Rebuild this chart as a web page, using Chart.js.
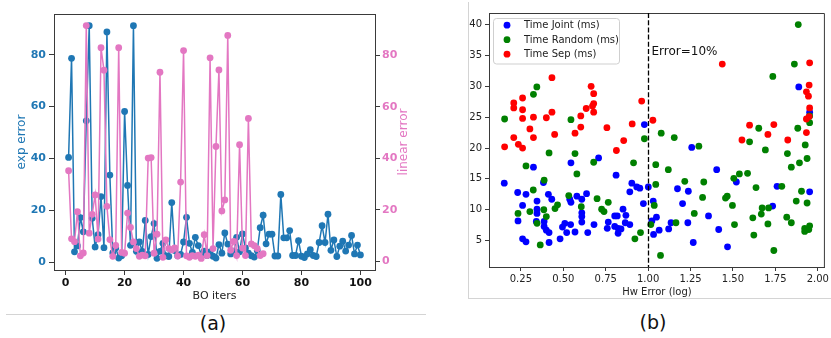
<!DOCTYPE html>
<html><head><meta charset="utf-8">
<script src="https://cdn.jsdelivr.net/npm/chart.js@4.4.0/dist/chart.umd.min.js"></script>
<style>
html,body{margin:0;padding:0;background:#fff;width:831px;height:338px;overflow:hidden;font-family:"DejaVu Sans",sans-serif;}
#ca{position:absolute;left:0;top:0;}
#cb{position:absolute;left:469px;top:0;}
#lineA{position:absolute;left:6px;top:314px;width:420px;height:0;border-top:1px solid #d4d4d4;}
#boxB{position:absolute;left:468px;top:2px;width:380px;height:296px;border-left:1px solid #d4d4d4;border-bottom:1px solid #d4d4d4;}
.cap{position:absolute;font-size:19px;color:#111;width:60px;text-align:center;line-height:22px;}
</style></head><body>
<div id="lineA"></div>
<div id="boxB"></div>
<canvas id="ca" width="430" height="310"></canvas>
<canvas id="cb" width="362" height="298"></canvas>
<div class="cap" style="left:183px;top:312px;">(a)</div>
<div class="cap" style="left:623px;top:311px;">(b)</div>
<script>
// ---------- (a) data ----------
const expError = [40.4,78.6,4.0,6.3,17.2,11.7,54.5,91.2,17.0,5.9,
10.6,25.3,5.6,88.8,33.6,3.6,5.5,1.6,2.5,58.1,
29.6,6.5,91.2,4.2,7.8,4.2,16.1,3.0,9.9,14.9,
1.5,4.2,7.3,2.5,2.2,23.0,4.5,2.5,3.0,7.8,
17.3,7.3,3.8,9.6,6.4,2.8,4.3,2.6,4.0,2.3,
1.6,6.8,3.5,11.3,7.0,3.2,4.0,9.6,4.0,10.9,
5.5,3.5,2.5,2.0,4.5,13.3,18.1,7.1,10.8,10.8,
2.4,2.4,26.1,9.4,9.4,12.2,2.6,2.6,8.3,2.3,
1.8,3.2,4.8,2.6,2.2,7.6,14.1,7.6,18.5,4.6,
8.6,2.2,6.2,8.1,4.3,6.6,10.3,3.2,6.6,2.8];
const linearError = [35.2,8.8,7.7,19.3,2.2,3.3,91.5,11.0,18.3,25.8,
8.7,82.9,74.2,21.4,8.5,2.0,6.2,82.9,3.5,3.2,
18.8,13.2,7.6,5.0,2.0,2.5,2.2,40.1,40.3,3.2,
10.6,73.4,1.6,8.4,5.0,4.5,5.3,2.1,30.8,81.8,
2.2,1.6,2.3,2.0,2.5,1.2,10.4,2.3,79.0,5.0,
44.6,74.3,19.6,23.9,87.7,4.4,7.8,2.3,45.3,5.2,
2.3,55.5,6.8,6.1,5.0,2.3,3.0];
const boIterTicks = [0,20,40,60,80,100];
const expTicks = [0,20,40,60,80];
const linTicks = [0,20,40,60,80];

// ---------- (b) data ----------
const jointX = [0.324,0.545,0.708,0.978,1.888,1.952,1.257,1.404,1.52,1.001,1.173,1.237,1.76,1.952,1.03,1.203,1.734,1.356,1.049,1.022,1.135,1.234,1.032,1.065,1.121,1.416,1.266,1.468,
0.152,0.231,0.28,0.383,0.412,0.432,0.538,0.545,0.58,0.609,0.637,0.609,0.609,0.609,0.26,0.345,0.345,0.345,0.233,0.341,0.387,0.387,0.40,0.416,0.26,0.28,0.416,0.481,0.495,0.509,0.52,0.543,0.569,0.644,0.681,0.759,0.765,0.811,0.803,0.818,0.803,0.823,0.823,0.84,0.852,0.869,0.865,0.892,0.892,0.904,0.933,0.951,0.972];
const jointY = [16.9,17.6,18.4,23.8,29.9,25.8,20.1,16.5,14.5,13.7,13.4,13.0,13.8,12.9,11.4,11.0,10.6,9.0,8.8,8.2,7.9,7.9,6.0,6.7,6.9,6.8,4.7,4.0,
14.3,12.8,12.5,14.4,12.5,11.7,11.7,11.2,12.2,11.7,12.6,9.5,8.9,8.0,10.7,11.4,10.1,9.4,8.2,8.1,8.1,7.3,6.7,6.3,5.3,4.8,4.7,5.3,7.2,7.8,6.3,7.6,6.4,6.3,7.6,7.0,8.0,15.6,9.0,9.0,7.3,7.0,6.2,6.9,10.1,9.1,7.9,7.6,12.9,14.3,13.7,13.5,11.0];
const randomX = [0.154,0.324,0.344,0.28,0.416,0.545,0.569,0.679,0.914,0.978,
1.885,1.862,1.735,1.952,1.952,1.652,1.882,1.077,1.154,1.299,1.598,1.926,1.691,1.821,1.937,1.892,1.844,1.045,1.119,
1.505,1.538,1.586,1.216,1.328,1.045,1.636,1.788,1.904,1.321,1.466,1.456,1.036,1.497,1.873,1.937,1.71,1.672,1.667,1.272,1.617,1.817,1.844,1.164,1.509,1.706,1.016,0.955,1.923,1.952,1.947,1.923,1.623,1.741,1.073,
0.58,0.323,0.387,0.532,0.606,0.233,0.303,0.385,0.40,0.451,0.466,0.345,0.364,0.699,0.726,0.74,0.765,0.922];
const randomY = [24.7,28.7,29.9,17.1,19.2,24.6,19.1,17.7,17.6,21.5,
40.0,33.6,31.6,25.2,24.1,23.2,23.2,22.4,21.7,20.3,21.0,20.5,19.7,19.1,18.3,17.6,16.9,17.3,16.5,
15.1,15.8,15.9,14.6,14.5,14.1,13.6,13.8,13.0,12.0,12.2,11.9,10.7,10.7,11.4,11.1,10.3,10.3,9.3,9.4,8.7,8.8,7.9,7.9,7.6,7.7,7.6,6.3,7.0,7.4,6.8,6.5,5.9,3.4,2.6,
15.8,13.2,14.8,12.3,10.5,9.4,9.7,10.0,8.9,10.2,10.8,7.8,4.3,11.8,10.1,9.7,11.2,5.3];
const sepX = [0.154,0.208,0.208,0.208,0.235,0.26,0.26,0.26,0.26,0.303,0.324,0.324,0.40,0.433,0.433,0.449,0.569,0.603,0.603,0.635,0.664,0.679,0.679,0.672,0.679,0.757,0.813,0.856,0.906,0.962,
1.437,1.952,1.949,1.933,1.945,1.952,1.949,1.933,1.028,1.598,1.741,1.706,1.933,1.553,1.823];
const sepY = [20.2,27.3,26.5,21.7,20.6,28.1,26.2,24.8,20.0,23.1,25.0,21.7,24.9,31.4,25.8,22.2,22.4,25.2,23.4,26.4,30.0,28.8,27.2,26.8,25.8,23.3,19.6,21.2,23.9,27.6,
33.6,33.8,30.2,29.1,28.4,26.5,25.1,24.7,24.5,23.7,23.8,22.2,22.5,21.3,21.3];
const hwTicks = [0.25,0.5,0.75,1.0,1.25,1.5,1.75,2.0];
const timeTicks = [5,10,15,20,25,30,35,40];
const errorLine = 1.0;
const errorText = 'Error=10%';
const errorTextPos = [1.02, 35];

// ---------- styles ----------
Chart.defaults.font.family = '"DejaVu Sans", sans-serif';
const BLUE = '#1f77b4', PINK = '#e377c2', SPINE = '#3a3a3a';
const setTicks = arr => scale => { scale.ticks = arr.map(v => ({value: v})); };

const boIters = expError.map((_, i) => i + 1);
const pts = (xs, ys) => ys.map((y, i) => ({x: xs[i], y}));

const frameA = {
  id: 'frameA',
  afterDraw(chart) {
    const {ctx, chartArea: {left, right, top, bottom}} = chart;
    ctx.save();
    ctx.strokeStyle = SPINE; ctx.lineWidth = 1;
    ctx.beginPath(); ctx.moveTo(left, top + 0.5); ctx.lineTo(right, top + 0.5); ctx.stroke();
    ctx.translate(chart.width - 26, (top + bottom) / 2);
    ctx.rotate(-Math.PI / 2);
    ctx.fillStyle = PINK; ctx.font = '12px "DejaVu Sans"';
    ctx.textAlign = 'center'; ctx.textBaseline = 'middle';
    ctx.fillText('linear error', 0, 0);
    ctx.restore();
  }
};

new Chart(document.getElementById('ca'), {
  type: 'line',
  data: {
    datasets: [
      {label: 'exp error', data: pts(boIters, expError), yAxisID: 'y', order: 2,
       borderColor: BLUE, backgroundColor: BLUE, pointBackgroundColor: BLUE, pointBorderWidth: 0,
       pointRadius: 3.4, borderWidth: 1.5, tension: 0},
      {label: 'linear error', data: pts(boIters, linearError), yAxisID: 'y2', order: 1,
       borderColor: PINK, backgroundColor: PINK, pointBackgroundColor: PINK, pointBorderWidth: 0,
       pointRadius: 3.4, borderWidth: 1.5, tension: 0}
    ]
  },
  options: {
    responsive: false, animation: false, devicePixelRatio: 1,
    layout: {padding: {top: 14, left: 0, right: 0, bottom: 0}},
    plugins: {legend: {display: false}, tooltip: {enabled: false}},
    scales: {
      x: {type: 'linear', min: -3.95, max: 104.95,
          afterBuildTicks: setTicks(boIterTicks),
          afterFit: s => { s.height = 40; },
          grid: {drawOnChartArea: false, tickLength: 5, color: SPINE},
          border: {display: true, color: SPINE},
          ticks: {color: '#111', padding: 2, font: {size: 11, weight: 'bold'}},
          title: {display: true, text: 'BO iters', color: '#222', font: {size: 11}, padding: {top: 0, bottom: 7}}},
      y: {type: 'linear', position: 'left', min: -3.0, max: 95.7,
          afterBuildTicks: setTicks(expTicks),
          afterFit: s => { s.width = 54; },
          grid: {drawOnChartArea: false, tickLength: 5, color: SPINE},
          border: {display: true, color: SPINE},
          ticks: {color: BLUE, padding: 3, font: {size: 11, weight: 'bold'}},
          title: {display: true, text: 'exp error', color: BLUE, font: {size: 12}, padding: {top: 15, bottom: 0}}},
      y2: {type: 'linear', position: 'right', min: -3.3, max: 96.0,
          afterBuildTicks: setTicks(linTicks),
          afterFit: s => { s.width = 55; },
          grid: {drawOnChartArea: false, tickLength: 5, color: SPINE},
          border: {display: true, color: SPINE},
          ticks: {color: PINK, padding: 2, font: {size: 11, weight: 'bold'}}}
    }
  },
  plugins: [frameA]
});

// ---------- (b) ----------
const extrasB = {
  id: 'extrasB',
  afterDatasetsDraw(chart) {
    const {ctx, chartArea: {left, right, top, bottom}, scales: {x, y}} = chart;
    ctx.save();
    // top & right spines
    ctx.strokeStyle = SPINE; ctx.lineWidth = 1;
    ctx.beginPath();
    ctx.moveTo(left, top + 0.5); ctx.lineTo(right - 0.5, top + 0.5); ctx.lineTo(right - 0.5, bottom);
    ctx.stroke();
    // dashed threshold
    const xp = Math.round(x.getPixelForValue(errorLine)) + 0.5;
    ctx.strokeStyle = '#000'; ctx.lineWidth = 1.3; ctx.setLineDash([5, 2.2]);
    ctx.beginPath(); ctx.moveTo(xp, top); ctx.lineTo(xp, bottom); ctx.stroke();
    ctx.setLineDash([]);
    ctx.fillStyle = '#111'; ctx.font = '12px "DejaVu Sans"';
    ctx.textAlign = 'left'; ctx.textBaseline = 'alphabetic';
    ctx.fillText(errorText, x.getPixelForValue(errorTextPos[0]), y.getPixelForValue(errorTextPos[1]));
    // legend
    const bx = left + 4, by = top + 5, bw = 126, bh = 45.5, r = 3;
    ctx.fillStyle = 'rgba(255,255,255,0.85)'; ctx.strokeStyle = '#cfcfcf'; ctx.lineWidth = 1;
    ctx.beginPath();
    ctx.roundRect(bx + 0.5, by + 0.5, bw, bh, r);
    ctx.fill(); ctx.stroke();
    ctx.font = '10px "DejaVu Sans"'; ctx.textBaseline = 'middle';
    chart.data.datasets.forEach((ds, i) => {
      const cy = by + 7.2 + i * 14.5;
      ctx.fillStyle = ds.backgroundColor;
      ctx.beginPath(); ctx.arc(bx + 14, cy, 3.4, 0, Math.PI * 2); ctx.fill();
      ctx.fillStyle = '#222';
      ctx.fillText(ds.label, bx + 31, cy + 0.5);
    });
    ctx.restore();
  }
};

new Chart(document.getElementById('cb'), {
  type: 'scatter',
  data: {
    datasets: [
      {label: 'Time Joint (ms)', data: pts(jointX, jointY), order: 3,
       backgroundColor: '#0000ff', borderColor: '#0000ff', pointRadius: 3.4, pointBorderWidth: 0},
      {label: 'Time Random (ms)', data: pts(randomX, randomY), order: 2,
       backgroundColor: '#008000', borderColor: '#008000', pointRadius: 3.4, pointBorderWidth: 0},
      {label: 'Time Sep (ms)', data: pts(sepX, sepY), order: 1,
       backgroundColor: '#ff0000', borderColor: '#ff0000', pointRadius: 3.4, pointBorderWidth: 0}
    ]
  },
  options: {
    responsive: false, animation: false, devicePixelRatio: 1,
    layout: {padding: {top: 13, left: 0, right: 1, bottom: 0}},
    plugins: {legend: {display: false}, tooltip: {enabled: false}},
    scales: {
      x: {type: 'linear', min: 0.062, max: 2.042,
          afterBuildTicks: setTicks(hwTicks),
          afterFit: s => { s.height = 31; },
          grid: {drawOnChartArea: false, tickLength: 4, color: SPINE},
          border: {display: true, color: SPINE},
          ticks: {color: '#222', padding: 2, font: {size: 10}, callback: v => Number(v).toFixed(2)},
          title: {display: true, text: 'Hw Error (log)', color: '#222', font: {size: 10}, padding: {top: 0, bottom: 0}}},
      y: {type: 'linear', min: 0.73, max: 41.87,
          afterBuildTicks: setTicks(timeTicks),
          afterFit: s => { s.width = 20; },
          grid: {drawOnChartArea: false, tickLength: 4, color: SPINE},
          border: {display: true, color: SPINE},
          ticks: {color: '#222', padding: 3, font: {size: 10}}}
    }
  },
  plugins: [extrasB]
});
</script>
</body></html>
